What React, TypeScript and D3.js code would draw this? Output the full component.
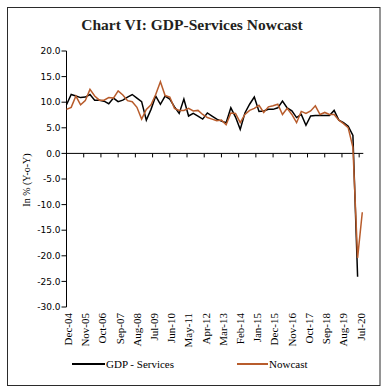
import * as d3 from 'd3';

// quarterly observations, Dec-04 .. Sep-20
const gdpServices = [
  9.5, 11.5, 11.2, 10.9, 11.0, 11.5, 10.4, 10.4, 10.2, 9.7, 10.8, 10.1, 10.4, 11.0, 11.5, 10.8,
  10.1, 6.5, 8.6, 11.2, 9.6, 11.2, 10.6, 9.1, 7.8, 10.6, 7.3, 7.8, 7.3, 6.7, 7.9, 7.3,
  6.7, 6.3, 6.0, 8.9, 7.1, 4.7, 7.9, 9.6, 11.0, 8.2, 8.3, 8.6, 8.6, 8.9, 10.2, 8.9,
  8.3, 7.0, 7.6, 5.5, 7.3, 7.4, 7.4, 7.4, 7.4, 8.4, 6.5, 6.0, 5.3, 3.5, -24.1,
];

const nowcast = [
  8.6, 9.0, 11.2, 9.5, 10.3, 12.5, 11.2, 10.4, 10.4, 10.9, 10.8, 12.2, 11.4, 10.3, 10.1, 9.0,
  6.7, 8.6, 9.5, 11.5, 14.0, 11.3, 11.0, 8.8, 8.4, 8.4, 8.8, 8.3, 8.4, 7.6, 7.0, 6.7,
  6.4, 6.5, 5.6, 7.9, 7.8, 6.0, 7.6, 8.4, 8.8, 9.4, 8.0, 9.1, 9.3, 9.6, 7.6, 8.8,
  7.6, 6.0, 8.2, 7.8, 8.3, 9.3, 7.6, 8.0, 7.6, 7.6, 6.5, 5.8, 5.0, 1.2, -20.4, -11.5,
];

// one label every 11 months from Dec-04
const tickLabels = [
  'Dec-04', 'Nov-05', 'Oct-06', 'Sep-07', 'Aug-08', 'Jul-09', 'Jun-10', 'May-11', 'Apr-12',
  'Mar-13', 'Feb-14', 'Jan-15', 'Dec-15', 'Nov-16', 'Oct-17', 'Sep-18', 'Aug-19', 'Jul-20',
];
const yTicks = [20, 15, 10, 5, 0, -5, -10, -15, -20, -25, -30];

const ORANGE = '#b85c2c';
const SERIF = '"Liberation Serif", "Times New Roman", serif';
const SANS = '"DejaVu Sans", Verdana, sans-serif';

export default function App() {
  const width = 386;
  const height = 390;

  // months since Dec-04
  const x = d3.scaleLinear().domain([0, 189]).range([66.5, 362.3]);
  const y = d3.scaleLinear().domain([-30, 20]).range([307, 51]);

  const line = d3
    .line<number>()
    .x((_, i) => x(i * 3))
    .y((d) => y(d));

  const x0 = x(0);
  const yZero = y(0);

  return (
    <svg
      width={width}
      height={height}
      style={{ position: 'absolute', left: 0, top: 0, background: '#fff' }}
    >
      <rect x={7.5} y={7.5} width={372.5} height={378} fill="#fff" stroke="#2b2b2b" strokeWidth={1} />

      <text
        x={192}
        y={30}
        textAnchor="middle"
        fontFamily={SERIF}
        fontWeight="bold"
        fontSize={15.5}
        fill="#231f20"
      >
        Chart VI: GDP-Services Nowcast
      </text>

      {/* y axis */}
      <line x1={x0} x2={x0} y1={y(20)} y2={y(-30)} stroke="#000" strokeWidth={1} />
      {yTicks.map((t) => (
        <g key={t} transform={`translate(0,${y(t)})`}>
          <line x1={x0 - 5} x2={x0} stroke="#000" strokeWidth={1} />
          <text
            x={x0 - 6}
            dy="0.35em"
            textAnchor="end"
            fontFamily={SANS}
            fontSize={9}
            fill="#000"
          >
            {t.toFixed(1)}
          </text>
        </g>
      ))}
      <text
        transform={`translate(30,180) rotate(-90)`}
        textAnchor="middle"
        fontFamily={SERIF}
        fontSize={10}
        fill="#000"
      >
        In % (Y-o-Y)
      </text>

      {/* x axis at zero */}
      <line x1={x0} x2={x(189) + 1} y1={yZero} y2={yZero} stroke="#000" strokeWidth={1} />
      {tickLabels.map((lab, i) => (
        <g key={lab}>
          <line
            x1={x(i * 11)}
            x2={x(i * 11)}
            y1={yZero}
            y2={yZero + 4}
            stroke="#000"
            strokeWidth={1}
          />
          <text
            transform={`translate(${x(i * 11) + 1.5},313) rotate(-90)`}
            dy="0.35em"
            textAnchor="end"
            fontFamily={SERIF}
            fontSize={11}
            fill="#000"
          >
            {lab}
          </text>
        </g>
      ))}

      <path d={line(gdpServices) ?? ''} fill="none" stroke="#000" strokeWidth={1.5} />
      <path d={line(nowcast) ?? ''} fill="none" stroke={ORANGE} strokeWidth={1.5} />

      {/* legend */}
      <line x1={72} x2={105} y1={364} y2={364} stroke="#000" strokeWidth={2} />
      <text x={106} y={364} dy="0.35em" fontFamily={SERIF} fontSize={11} fill="#000">
        GDP - Services
      </text>
      <line x1={237} x2={268} y1={364} y2={364} stroke={ORANGE} strokeWidth={2} />
      <text x={269} y={364} dy="0.35em" fontFamily={SERIF} fontSize={11} fill="#000">
        Nowcast
      </text>
    </svg>
  );
}
